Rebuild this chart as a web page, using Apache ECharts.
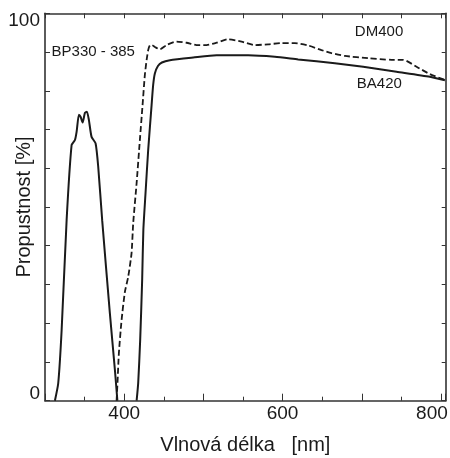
<!DOCTYPE html>
<html><head><meta charset="utf-8">
<script src="https://cdn.jsdelivr.net/npm/echarts/dist/echarts.min.js"></script>
<style>html,body{margin:0;padding:0;background:#fff}#c{width:450px;height:458px}</style>
</head><body><div id="c"></div>
<script>
// BP330-385 excitation filter (solid)
const bpWavelength = [312.5, 316.7, 321.0, 327.3, 333.6, 337.8, 339.9, 342.8, 344.9, 347.5, 350.4, 352.9, 355.4, 358.8, 363.9, 367.2, 372.2, 381.9, 388.3, 391.4];
const bpTransmission = [0, 4.5, 18.2, 46.6, 66.0, 67.3, 69.4, 73.8, 73.3, 71.8, 74.3, 74.6, 72.5, 68.1, 66.4, 60.4, 46.6, 22.6, 7.9, 0];
// DM400 dichroic mirror (dashed)
const dmWavelength = [390.4, 391.7, 393.3, 396.7, 400.9, 405.1, 409.3, 411.4, 415.7, 419.8, 423.2, 426.1, 428.3, 430.3, 432.4, 434.9, 438.8, 445.2, 453.5, 466.2, 478.8, 491.4, 504.0, 516.7, 531.3, 548.2, 565.0, 581.8, 598.7, 615.5, 632.3, 649.2, 661.9, 678.7, 708.1, 737.6, 752.3, 769.2, 786.0, 804.9];
const dmTransmission = [0, 5.3, 12.3, 20.8, 28.1, 32.0, 38.1, 45.9, 56.2, 67.3, 76.3, 84.1, 87.9, 90.5, 91.7, 91.8, 91.3, 90.7, 91.8, 92.7, 92.4, 91.8, 91.8, 92.4, 93.3, 92.7, 91.8, 92.0, 92.3, 92.3, 91.7, 90.5, 89.7, 89.0, 88.4, 88.0, 88.0, 86.2, 84.3, 82.8];
// BA420 barrier filter (solid)
const baWavelength = [415.7, 417.7, 420.2, 422.7, 424.2, 426.8, 430.3, 434.6, 436.6, 438.8, 442.6, 447.6, 457.7, 487.1, 516.7, 556.6, 590.3, 619.7, 666.0, 701.8, 743.9, 786.0, 805.0];
const baTransmission = [0, 4.6, 15.7, 31.2, 44.1, 53.1, 64.7, 76.3, 81.5, 84.5, 86.4, 87.3, 87.9, 88.6, 89.2, 89.2, 88.8, 88.1, 87.1, 86.2, 84.9, 83.6, 82.7];

const xTickLabels = [400, 600, 800];
const yTickLabels = [0, 100];
const annotationTexts = ['BP330 - 385', 'DM400', 'BA420'];
const annotationX = [308.3, 691.3, 693.8];
const annotationY = [90.1, 95.2, 81.7];

const FONT = 'Liberation Sans, Arial, Helvetica, sans-serif';
const INK = '#1a1a1a';
const zip = (a, b) => a.map((v, i) => [v, b[i]]);

const chart = echarts.init(document.getElementById('c'), null, {renderer: 'canvas'});
const xBase = {type: 'value', min: 300, max: 806, gridIndex: 0, splitLine: {show: false}};
const yBase = {type: 'value', min: 0, max: 100, interval: 10, splitLine: {show: false}};
const lineStyle = {color: '#333', width: 1.6};

chart.setOption({
  backgroundColor: '#fff',
  animation: false,
  grid: {left: 45, right: 4.3, top: 13.3, bottom: 57.3, outerBoundsMode: 'none', containLabel: false},
  xAxis: [
    Object.assign({}, xBase, {
      position: 'bottom', interval: 100,
      axisLine: {show: true, lineStyle},
      axisTick: {show: true, inside: true, length: 7, lineStyle: {color: '#333', width: 1}},
      axisLabel: {
        show: true, margin: 4, showMaxLabel: true, showMinLabel: true,
        formatter: v => {
          if (!xTickLabels.includes(v)) return '';
          return v === 800 ? '{r|' + v + '}' : '{n|' + v + '}';
        },
        rich: {
          n: {fontSize: 19, fontFamily: FONT, color: INK},
          r: {fontSize: 19, fontFamily: FONT, color: INK, padding: [0, 18, 0, 0]}
        }
      },
      name: 'Vlnová délka   [nm]', nameLocation: 'middle', nameGap: 35, nameMoveOverlap: false,
      nameTextStyle: {fontSize: 20, fontFamily: FONT, color: INK}
    }),
    Object.assign({}, xBase, {
      position: 'bottom', interval: 50,
      axisLine: {show: false},
      axisTick: {show: true, inside: true, length: 4, lineStyle: {color: '#333', width: 1}},
      axisLabel: {show: false}
    }),
    Object.assign({}, xBase, {
      position: 'top', interval: 50,
      axisLine: {show: true, lineStyle},
      axisTick: {show: true, inside: true, length: 5, lineStyle: {color: '#333', width: 1}},
      axisLabel: {show: false}
    })
  ],
  yAxis: [
    Object.assign({}, yBase, {
      position: 'left',
      axisLine: {show: true, lineStyle},
      axisTick: {show: true, inside: true, length: 5, lineStyle: {color: '#333', width: 1}},
      axisLabel: {
        show: true, margin: 5,
        formatter: v => {
          if (!yTickLabels.includes(v)) return '';
          return v === 100 ? '{t|' + v + '}' : '{b|' + v + '}';
        },
        rich: {
          t: {fontSize: 19, fontFamily: FONT, color: INK, padding: [14, 0, 0, 0]},
          b: {fontSize: 19, fontFamily: FONT, color: INK, padding: [0, 0, 14, 0]}
        }
      },
      name: 'Propustnost [%]', nameLocation: 'middle', nameGap: 11, nameRotate: 90, nameMoveOverlap: false,
      nameTextStyle: {fontSize: 20, fontFamily: FONT, color: INK}
    }),
    Object.assign({}, yBase, {
      position: 'right',
      axisLine: {show: true, lineStyle},
      axisTick: {show: true, inside: true, length: 4, lineStyle: {color: '#333', width: 1}},
      axisLabel: {show: false}
    })
  ],
  series: [
    {type: 'line', name: 'BP330-385', data: zip(bpWavelength, bpTransmission), showSymbol: false, symbol: 'none',
     smooth: 0.2, lineStyle: {color: INK, width: 2}},
    {type: 'line', name: 'DM400', data: zip(dmWavelength, dmTransmission), showSymbol: false, symbol: 'none',
     smooth: 0.2, lineStyle: {color: INK, width: 1.8, type: [6, 3]}},
    {type: 'line', name: 'BA420', data: zip(baWavelength, baTransmission), showSymbol: false, symbol: 'none',
     smooth: 0.2, lineStyle: {color: INK, width: 2}}
  ]
});

const texts = annotationTexts.map((t, i) => {
  const p = chart.convertToPixel({xAxisIndex: 0, yAxisIndex: 0}, [annotationX[i], annotationY[i]]);
  return {type: 'text', x: p[0], y: p[1], style: {text: t, fill: INK, font: '15px ' + FONT, textAlign: 'left', textVerticalAlign: 'middle'}};
});
chart.setOption({graphic: texts});
</script>
</body></html>
